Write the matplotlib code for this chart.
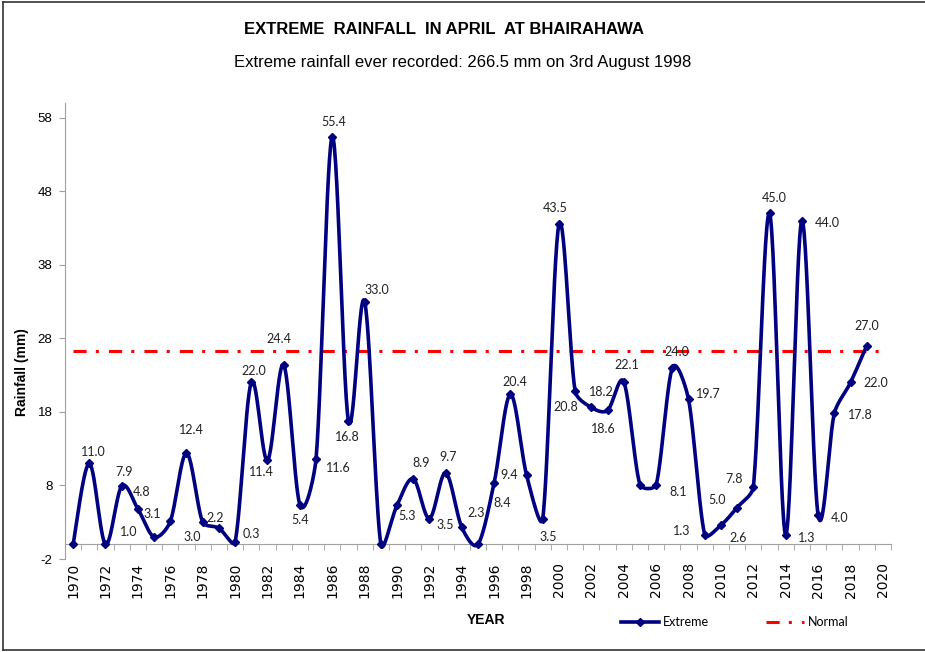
import numpy as np
import matplotlib
matplotlib.use("Agg")
import matplotlib.pyplot as plt
from matplotlib.lines import Line2D
from matplotlib.ticker import FixedLocator

# --- DATA ---
years = list(range(1970, 2020))
extreme = [0.0, 11.0, 0.0, 7.9, 4.8, 1.0, 3.1, 12.4, 3.0, 2.2,
           0.3, 22.0, 11.4, 24.4, 5.4, 11.6, 55.4, 16.8, 33.0, 0.0,
           5.3, 8.9, 3.5, 9.7, 2.3, 0.0, 8.4, 20.4, 9.4, 3.5,
           43.5, 20.8, 18.6, 18.2, 22.1, 8.1, 8.1, 24.0, 19.7, 1.3,
           2.6, 5.0, 7.8, 45.0, 1.3, 44.0, 4.0, 17.8, 22.0, 27.0]
# labels shown on the chart (blank where the original shows none)
point_labels = ["", "11.0", "", "7.9", "4.8", "1.0", "3.1", "12.4", "3.0", "2.2",
                "0.3", "22.0", "11.4", "24.4", "5.4", "11.6", "55.4", "16.8", "33.0", "",
                "5.3", "8.9", "3.5", "9.7", "2.3", "", "8.4", "20.4", "9.4", "3.5",
                "43.5", "20.8", "18.6", "18.2", "22.1", "", "8.1", "24.0", "19.7", "1.3",
                "2.6", "5.0", "7.8", "45.0", "1.3", "44.0", "4.0", "17.8", "22.0", "27.0"]
normal_years = [1970, 2020]
normal_vals = [26.3, 26.3]
ytick_vals = [-2, 8, 18, 28, 38, 48, 58]
xtick_years = list(range(1970, 2021, 2))

# label offsets from each point, in pixels (x right, y up)
label_offsets = [(0, 0), (4, 11), (0, 0), (2, 14), (4, 17), (-25, 5), (-18, 7), (5, 23), (-10, -15), (-4, 10),
                 (16, 8), (3, 11), (-6, -12), (-5, 26), (0, -15), (22, -9), (2, 15), (-1, -16), (12, 12), (0, 0),
                 (10, -11), (8, 16), (16, -6), (3, 16), (14, 14), (0, 0), (8, -20), (4, 12), (-17, 0), (5, -18),
                 (-4, 16), (-9, -16), (12, -22), (-6, 18), (3, 17), (0, 0), (22, -7), (4, 16), (20, 5), (-23, 4),
                 (17, -13), (-20, 8), (-19, 8), (5, 15), (21, -3), (25, -2), (21, -3), (26, -2), (25, -1), (0, 20)]


def smooth_curve(xs, ys, xscale=16.2, yscale=7.35, n=30):
    # Excel style smoothed line: Catmull-Rom Bezier segments, with the
    # control arms kept short next to short segments (screen space)
    px = np.asarray(xs, float) * xscale
    py = np.asarray(ys, float) * yscale
    pts = np.column_stack([px, py])
    out = []
    t = np.linspace(0, 1, n)[:, None]
    last = len(pts) - 1
    for i in range(last):
        p1, p2 = pts[i], pts[i + 1]
        p0 = pts[max(i - 1, 0)]
        p3 = pts[min(i + 2, last)]
        seg = np.linalg.norm(p2 - p1)
        d1 = p2 - p0
        d2 = p3 - p1
        n1 = np.linalg.norm(d1)
        n2 = np.linalg.norm(d2)
        c1 = p1 + d1 / n1 * min(n1 / 6, seg / 3)
        c2 = p2 - d2 / n2 * min(n2 / 6, seg / 3)
        out.append((1 - t) ** 3 * p1 + 3 * (1 - t) ** 2 * t * c1 + 3 * (1 - t) * t ** 2 * c2 + t ** 3 * p2)
    out = np.vstack(out)
    return out[:, 0] / xscale, out[:, 1] / yscale


arial = ["Liberation Sans", "DejaVu Sans"]
calib = ["Lato", "DejaVu Sans"]

fig = plt.figure(figsize=(9.25, 6.52), dpi=100)
ax = fig.add_axes([65 / 925, 1 - 559 / 652, 826 / 925, 456 / 652])

navy = "#000080"
sx, sy = smooth_curve(years, extreme)
ax.plot(sx, sy, color=navy, lw=2.6, solid_capstyle="round", zorder=3)
ax.plot(years, extreme, ls="none", marker="D", ms=4, color=navy, zorder=4)

ax.plot(normal_years, normal_vals, color="#FF0000", lw=2.2,
        dashes=(4.3, 3.0, 1.0, 3.3), zorder=2)

for yr, v, lab, (dx, dy) in zip(years, extreme, point_labels, label_offsets):
    if lab:
        ax.annotate(lab, (yr, v), xytext=(dx, dy), textcoords="offset pixels",
                    ha="center", va="center", fontsize=9, family=calib, color="#222222")

ax.set_xlim(1969.5, 2020.5)
ax.set_ylim(-2, 60)
ax.xaxis.set_major_locator(FixedLocator(xtick_years))
ax.xaxis.set_minor_locator(FixedLocator([y + 0.5 for y in range(1969, 2021)]))
ax.set_yticks(ytick_vals)
ax.set_yticklabels([str(v) for v in ytick_vals], family=arial, fontsize=9.5)
for lab in ax.get_xticklabels():
    lab.set_family(arial)
    lab.set_fontsize(8.5)

for s in ["top", "right"]:
    ax.spines[s].set_visible(False)
ax.spines["bottom"].set_position(("data", 0))
ax.spines["bottom"].set_color("#A0A0A0")
ax.spines["left"].set_color("#A0A0A0")
ax.tick_params(axis="x", which="major", length=0, pad=13, labelrotation=90)
ax.tick_params(axis="x", which="minor", length=4, color="#A0A0A0")
ax.tick_params(axis="y", length=4, color="#A0A0A0", pad=5)

fig.text(22 / 925, 1 - 372 / 652, "Rainfall (mm)", rotation=90, ha="center", va="center",
         fontsize=10, fontweight="bold", family=arial)
fig.text(486 / 925, 1 - 620 / 652, "YEAR", ha="center", va="center",
         fontsize=10, fontweight="bold", family=arial)
fig.text(0.48, 1 - 29 / 652, "EXTREME  RAINFALL  IN APRIL  AT BHAIRAHAWA", ha="center", va="center",
         fontsize=12, fontweight="bold", family=arial)
fig.text(0.5, 1 - 63 / 652, "Extreme rainfall ever recorded: 266.5 mm on 3rd August 1998", ha="center",
         va="center", fontsize=12, family=arial)

handles = [Line2D([], [], color=navy, lw=2.6, marker="D", ms=4),
           Line2D([], [], color="#FF0000", lw=2.2, dashes=(4.3, 3.0, 1.0, 3.3))]
fig.legend(handles, ["Extreme", "Normal"], loc="center left", bbox_to_anchor=(0.665, 1 - 622 / 652),
           ncol=2, frameon=False, handlelength=3.0, handletextpad=0.3, columnspacing=4.6,
           borderpad=0, prop={"family": calib, "size": 9})

# chart border
fig.add_artist(Line2D([3 / 925, 3 / 925], [2 / 652, 1 - 2 / 652], color="#333333", lw=1.2))
fig.add_artist(Line2D([3 / 925, 1], [1 - 2 / 652, 1 - 2 / 652], color="#333333", lw=1.2))
fig.add_artist(Line2D([3 / 925, 1], [2 / 652, 2 / 652], color="#333333", lw=1.2))

fig.savefig("out.png", dpi=100)
